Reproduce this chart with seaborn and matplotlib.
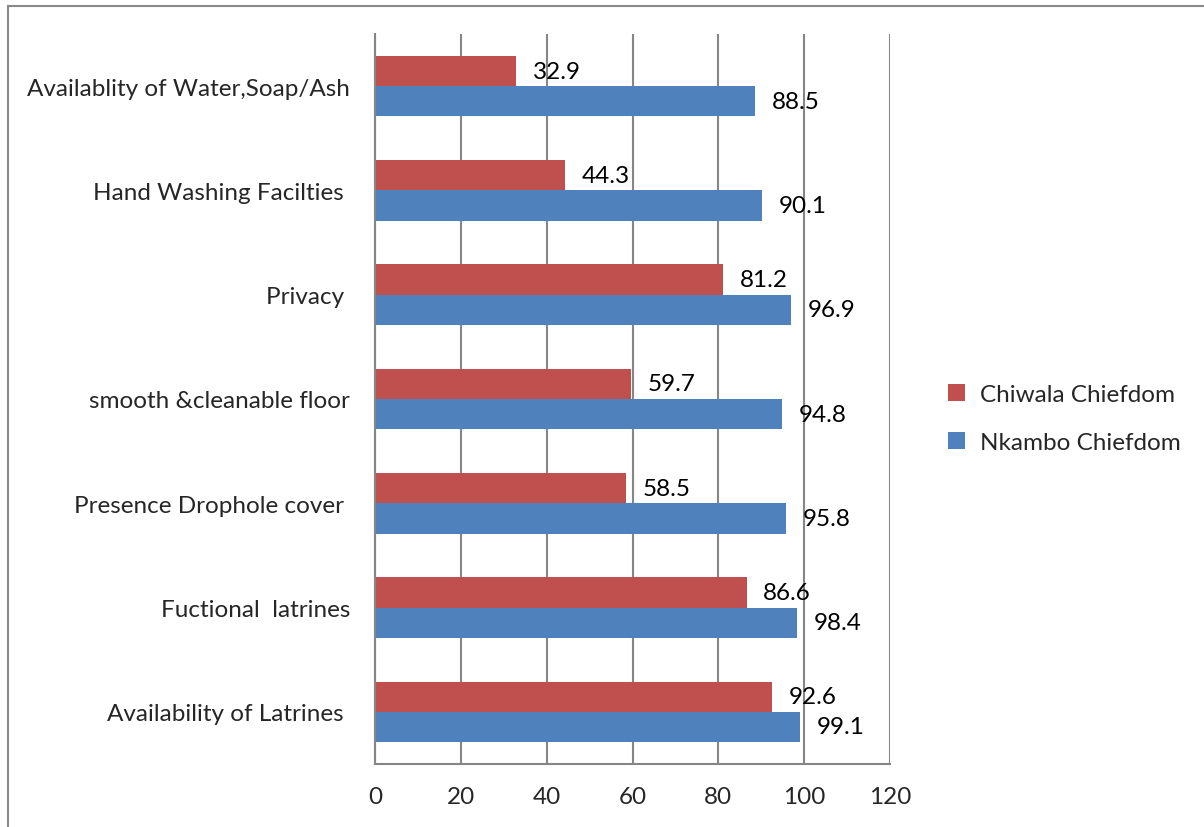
import pandas as pd
import numpy as np
import matplotlib
matplotlib.use("Agg")
import matplotlib.pyplot as plt
import matplotlib.patches as mpatches
from matplotlib.ticker import FixedLocator
import seaborn as sns

# --- Data ---
categories = [
    "Availablity of Water,Soap/Ash",
    "Hand Washing Facilties ",
    "Privacy ",
    "smooth &cleanable floor",
    "Presence Drophole cover ",
    "Fuctional  latrines",
    "Availability of Latrines ",
]
chiwala = [32.9, 44.3, 81.2, 59.7, 58.5, 86.6, 92.6]
nkambo = [88.5, 90.1, 96.9, 94.8, 95.8, 98.4, 99.1]
series_names = ["Chiwala Chiefdom", "Nkambo Chiefdom"]
x_ticks = [0, 20, 40, 60, 80, 100, 120]

df = pd.DataFrame({
    "category": categories * 2,
    "value": chiwala + nkambo,
    "series": [series_names[0]] * len(categories) + [series_names[1]] * len(categories),
})

# --- Style ---
sns.set_style("white")
plt.rcParams["font.family"] = ["Lato", "DejaVu Sans"]
grid_col = "#868686"
palette = {series_names[0]: "#C0504D", series_names[1]: "#4F81BD"}
fs = 17.5

fig = plt.figure(figsize=(12.04, 8.28), dpi=100)
ax = fig.add_axes([375 / 1204, 1 - 765 / 828, (890 - 375) / 1204, (765 - 35) / 828])

sns.barplot(data=df, y="category", x="value", hue="series", order=categories,
            hue_order=series_names, palette=palette, orient="h", width=0.58,
            saturation=1, linewidth=0, ax=ax, legend=True)

for cont in ax.containers:
    ax.bar_label(cont, labels=[f"{v:.1f}" for v in cont.datavalues],
                 padding=12, fontsize=fs, color="black")

# axes, grid and ticks in Excel style
ax.set_xlim(0, 120)
ax.set_ylim(len(categories) - 0.5, -0.5)
ax.set_xticks(x_ticks)
ax.xaxis.grid(True, color=grid_col, linewidth=1.5)
ax.set_axisbelow(True)
ax.set_xlabel("")
ax.set_ylabel("")
for side in ["top", "right"]:
    ax.spines[side].set_visible(False)
for side in ["left", "bottom"]:
    ax.spines[side].set_color(grid_col)
    ax.spines[side].set_linewidth(1.5)

ax.tick_params(axis="x", length=7, width=1.5, color=grid_col, labelsize=fs, pad=9)
ax.tick_params(axis="y", which="major", length=0, labelsize=fs, pad=18)
ax.yaxis.set_minor_locator(FixedLocator(np.arange(-0.5, len(categories), 1.0)))
ax.tick_params(axis="y", which="minor", length=5, width=1.5, color=grid_col)

# legend on the right
handles, labels = ax.get_legend_handles_labels()
ax.legend(handles, labels, loc="center left", bbox_to_anchor=(1.07, 0.473),
          frameon=False, fontsize=fs, handlelength=0.7, handleheight=0.7,
          labelspacing=1.1, handletextpad=0.6)

# outer chart frame
fig.patches.append(mpatches.Rectangle((8 / 1204, -0.1), 2, 1 - 7 / 828 + 0.1,
                                      transform=fig.transFigure, fill=False,
                                      edgecolor="#8a8a8a", linewidth=1.5))

fig.savefig("out.png", dpi=100)
